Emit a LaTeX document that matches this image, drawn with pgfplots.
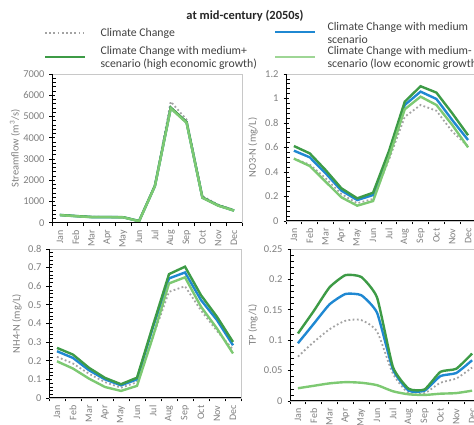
\documentclass[border=0pt]{standalone}
\usepackage{fontspec}
\setmainfont{Carlito}
\usepackage{pgfplots}
\usepackage{pgfplotstable}
\pgfplotsset{compat=1.18}

\definecolor{ccgray}{HTML}{A3A3A3}
\definecolor{cmed}{HTML}{1F88D2}
\definecolor{cplus}{HTML}{3D9B46}
\definecolor{cminus}{HTML}{7DC972}
\definecolor{labgray}{HTML}{7F7F7F}
\definecolor{framegray}{HTML}{C8C8C8}
\definecolor{legtext}{HTML}{404040}

% month  cc  med  medp  medm
\pgfplotstableread{
m cc med medp medm
1 370 360 365 355
2 320 310 315 305
3 275 265 270 260
4 270 265 268 262
5 265 255 258 250
6 80 75 78 70
7 1750 1730 1740 1720
8 5700 5400 5420 5380
9 4850 4720 4740 4700
10 1250 1180 1190 1170
11 850 810 815 800
12 600 570 575 565
}\flowtab

\pgfplotstableread{
m cc med medp medm
1 0.510 0.574 0.612 0.509
2 0.460 0.520 0.552 0.449
3 0.350 0.390 0.416 0.321
4 0.220 0.248 0.267 0.193
5 0.145 0.171 0.185 0.125
6 0.180 0.212 0.231 0.163
7 0.500 0.550 0.570 0.520
8 0.850 0.947 0.974 0.912
9 0.947 1.056 1.100 1.015
10 0.900 0.996 1.048 0.947
11 0.730 0.824 0.879 0.784
12 0.610 0.661 0.700 0.601
}\nothreetab

\pgfplotstableread{
m cc med medp medm
1 0.221 0.251 0.269 0.197
2 0.185 0.215 0.233 0.158
3 0.130 0.149 0.162 0.104
4 0.085 0.100 0.108 0.059
5 0.055 0.068 0.074 0.038
6 0.085 0.100 0.109 0.065
7 0.330 0.380 0.390 0.330
8 0.570 0.642 0.665 0.615
9 0.600 0.674 0.705 0.648
10 0.470 0.526 0.552 0.490
11 0.360 0.418 0.436 0.373
12 0.260 0.283 0.301 0.239
}\nhfourtab

\pgfplotstableread{
m cc med medp medm
1 0.073 0.095 0.111 0.021
2 0.097 0.127 0.148 0.025
3 0.118 0.159 0.187 0.029
4 0.132 0.176 0.207 0.031
5 0.133 0.174 0.204 0.030
6 0.114 0.145 0.170 0.026
7 0.045 0.052 0.056 0.016
8 0.013 0.017 0.020 0.011
9 0.013 0.017 0.019 0.010
10 0.030 0.041 0.048 0.012
11 0.037 0.046 0.053 0.013
12 0.055 0.067 0.078 0.017
}\tptab

\tikzset{
  ccline/.style={ccgray, line width=1.8bp, dash pattern=on 1.8bp off 2.4bp},
  medline/.style={cmed},
  plusline/.style={cplus},
  minusline/.style={cminus},
}

\pgfplotsset{
  panel/.style={
    scale only axis,
    scaled ticks=false,
    xmin=0.5, xmax=12.5,
    xtick={1,...,12},
    xticklabels={Jan,Feb,Mar,Apr,May,Jun,Jul,Aug,Sep,Oct,Nov,Dec},
    minor xtick={0.5,1.5,...,12.5},
    major x tick style={draw=none},
    minor x tick style={black, line width=0.8bp},
    xtick pos=bottom, ytick pos=left,
    tick align=outside,
    major tick length=5bp, minor tick length=3.5bp,
    minor y tick num=4,
    major y tick style={black, line width=0.8bp, xshift=2.5bp},
    minor y tick style={black, line width=0.6bp, xshift=3.5bp},
    axis line style={framegray, line width=0.9bp},
    tick label style={font=\fontsize{10.5}{12}\selectfont, text=labgray,
      /pgf/number format/assume math mode=true},
    y tick label style={/pgf/number format/1000 sep={}, /pgf/number format/fixed, xshift=1bp},
    x tick label style={rotate=90, anchor=east, font=\fontsize{10}{11}\selectfont, xshift=1bp},
    ylabel style={font=\fontsize{10.5}{12}\selectfont, text=labgray, anchor=center},
    clip=false,
    every axis plot/.append style={line width=2.4bp, mark=none},
    extra description/.code={
      \draw[black, line width=1bp] (rel axis cs:0,1) -- (rel axis cs:0,0) -- (rel axis cs:1,0);
    },
  },
}

\begin{document}
\begin{tikzpicture}
\useasboundingbox (0bp,0bp) rectangle (474bp,425bp);
\clip (0bp,0bp) rectangle (474bp,425bp);

% title and legend
\node[font=\bfseries\fontsize{12.5}{14}\selectfont, text=black!85] at (245bp,409.5bp) {at mid-century (2050s)};
\draw[ccline] (45bp,392bp) -- (84bp,392bp);
\node[anchor=west, font=\fontsize{11.8}{13}\selectfont, text=legtext] at (97bp,392bp) {Climate Change};
\draw[cmed, line width=2.5bp] (275bp,393bp) -- (315bp,393bp);
\node[anchor=west, align=left, font=\fontsize{11.8}{13.5}\selectfont, text=legtext] at (324bp,392bp) {Climate Change with medium\\scenario};
\draw[cplus, line width=2.5bp] (45bp,368bp) -- (85bp,368bp);
\node[anchor=west, align=left, font=\fontsize{11.8}{12.5}\selectfont, text=legtext] at (97bp,367bp) {Climate Change with medium+\\scenario (high economic growth)};
\draw[cminus!75!white, line width=2.5bp] (275bp,368bp) -- (315bp,368bp);
\node[anchor=west, align=left, font=\fontsize{11.8}{12.5}\selectfont, text=legtext] at (324bp,367bp) {Climate Change with medium-\\scenario (low economic growth)};

% streamflow
\begin{axis}[panel, at={(52bp,351bp)}, anchor=north west, width=190bp, height=148.7bp,
  ymin=0, ymax=7000, ytick={0,1000,...,7000},
  ylabel={Streamflow (m\textsuperscript{3}/s)},
  ylabel style={at={([xshift=-37bp]rel axis cs:0,0.5)}}]
\addplot[ccline] table[x=m, y=cc] {\flowtab};
\addplot[medline] table[x=m, y=med] {\flowtab};
\addplot[plusline] table[x=m, y=medp] {\flowtab};
\addplot[minusline] table[x=m, y=medm] {\flowtab};
\end{axis}

% NO3-N
\begin{axis}[panel, at={(286bp,351bp)}, anchor=north west, width=190bp, height=147bp,
  ymin=0, ymax=1.2, ytick={0,0.2,0.4,0.6,0.8,1,1.2},
  ylabel={NO3-N (mg/L)},
  ylabel style={at={([xshift=-33bp]rel axis cs:0,0.5)}}]
\addplot[ccline] table[x=m, y=cc] {\nothreetab};
\addplot[medline] table[x=m, y=med] {\nothreetab};
\addplot[plusline] table[x=m, y=medp] {\nothreetab};
\addplot[minusline] table[x=m, y=medm] {\nothreetab};
\end{axis}

% NH4-N
\begin{axis}[panel, at={(49bp,176bp)}, anchor=north west, width=192bp, height=149bp,
  ymin=0, ymax=0.8, ytick={0,0.1,0.2,0.3,0.4,0.5,0.6,0.7,0.8},
  ylabel={NH4-N (mg/L)},
  ylabel style={at={([xshift=-32bp]rel axis cs:0,0.5)}}]
\addplot[ccline] table[x=m, y=cc] {\nhfourtab};
\addplot[medline] table[x=m, y=med] {\nhfourtab};
\addplot[plusline] table[x=m, y=medp] {\nhfourtab};
\addplot[minusline] table[x=m, y=medm] {\nhfourtab};
\end{axis}

% TP
\begin{axis}[panel, at={(290bp,176bp)}, anchor=north west, width=190bp, height=152bp,
  ymin=0, ymax=0.25, ytick={0,0.05,0.1,0.15,0.2,0.25},
  yticklabel style={/pgf/number format/precision=2},
  ylabel={TP (mg/L)},
  ylabel style={at={([xshift=-37bp]rel axis cs:0,0.5)}}]
\addplot[ccline, smooth, tension=0.4] table[x=m, y=cc] {\tptab};
\addplot[medline, smooth, tension=0.3] table[x=m, y=med] {\tptab};
\addplot[plusline, smooth, tension=0.3] table[x=m, y=medp] {\tptab};
\addplot[minusline, smooth, tension=0.4] table[x=m, y=medm] {\tptab};
\end{axis}
\end{tikzpicture}
\end{document}
